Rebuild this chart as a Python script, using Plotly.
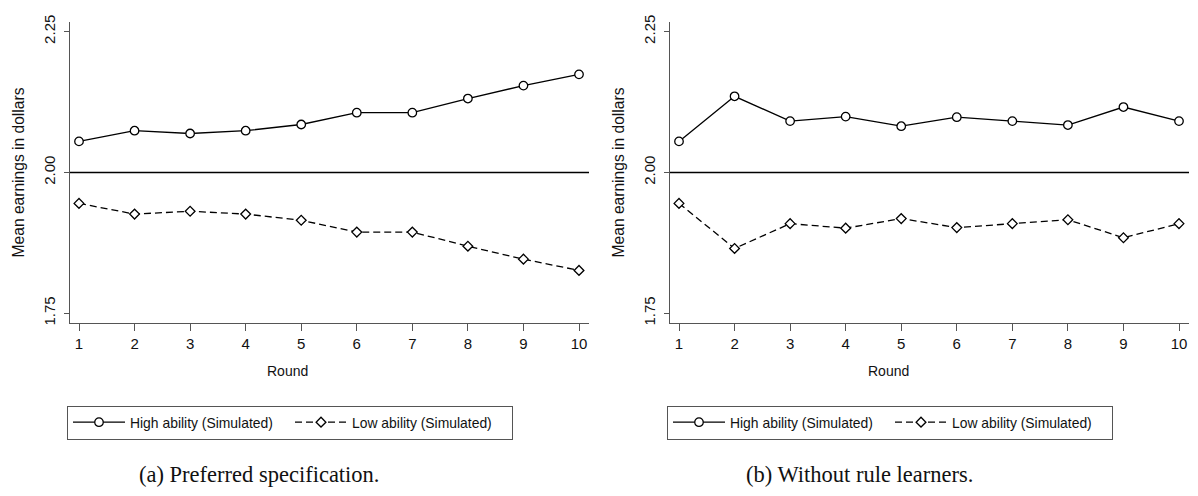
import plotly.graph_objects as go

# Mean earnings by round, simulated high/low ability groups
rounds = list(range(1, 11))
high_pref = [2.055, 2.074, 2.069, 2.074, 2.085, 2.106, 2.106, 2.131, 2.154, 2.174]
low_pref = [1.945, 1.926, 1.931, 1.926, 1.915, 1.894, 1.894, 1.869, 1.846, 1.826]
high_norule = [2.055, 2.135, 2.091, 2.099, 2.082, 2.098, 2.091, 2.084, 2.116, 2.091]
low_norule = [1.945, 1.865, 1.909, 1.901, 1.918, 1.902, 1.909, 1.916, 1.884, 1.909]

y_ticks = [1.75, 2.00, 2.25]
y_tick_text = ["1.75", "2.00", "2.25"]
baseline = 2.00
series_names = ["High ability (Simulated)", "Low ability (Simulated)"]
captions = ["(a) Preferred specification.", "(b) Without rule learners."]
x_title = "Round"
y_title = "Mean earnings in dollars"

W, H = 1198, 496
SANS = "Liberation Sans, Arial, sans-serif"
SERIF = "Liberation Serif, Times New Roman, serif"
AXIS_GREY = "#555555"


def px_x(p):
    return p / W


def px_y(p):
    return 1 - p / H


fig = go.Figure()

panels = [
    dict(high=high_pref, low=low_pref, ax="", left=70, right=589, legend="legend",
         legend_x=67, title_x=287, ytitle_x=18, caption_x=259),
    dict(high=high_norule, low=low_norule, ax="2", left=670, right=1189, legend="legend2",
         legend_x=667, title_x=888, ytitle_x=618, caption_x=859),
]

plot_top, plot_bottom = 15, 322

for i, p in enumerate(panels):
    xa = "x" + p["ax"]
    ya = "y" + p["ax"]
    fig.add_trace(go.Scatter(
        x=rounds, y=p["high"], mode="lines+markers", name=series_names[0],
        xaxis=xa, yaxis=ya, legend=p["legend"],
        line=dict(color="black", width=1.3),
        marker=dict(symbol="circle", size=8.5, color="white",
                    line=dict(color="black", width=1.3)),
    ))
    fig.add_trace(go.Scatter(
        x=rounds, y=p["low"], mode="lines+markers", name=series_names[1],
        xaxis=xa, yaxis=ya, legend=p["legend"],
        line=dict(color="black", width=1.3, dash="7px,4px"),
        marker=dict(symbol="diamond", size=7.5, color="white",
                    line=dict(color="black", width=1.3)),
    ))

    axis_common = dict(
        showgrid=False, zeroline=False, showline=True,
        linecolor=AXIS_GREY, linewidth=1.2,
        ticks="outside", tickcolor=AXIS_GREY, tickwidth=1.2,
        tickfont=dict(family=SANS, size=15, color="#111111"),
    )
    fig.update_layout(**{
        "xaxis" + p["ax"]: dict(
            axis_common,
            domain=[px_x(p["left"]), px_x(p["right"])],
            range=[0.838, 10.18], tickvals=rounds, ticklen=7,
            anchor=ya,
        ),
        "yaxis" + p["ax"]: dict(
            axis_common,
            domain=[px_y(plot_bottom), px_y(plot_top)],
            range=[1.7324, 2.2674], tickvals=y_ticks, ticktext=y_tick_text,
            tickangle=-90, ticklen=5, ticklabelstandoff=3,
            anchor=xa,
        ),
        p["legend"]: dict(
            orientation="h", x=px_x(p["legend_x"]), xanchor="left",
            y=px_y(406), yanchor="top",
            bordercolor=AXIS_GREY, borderwidth=1, bgcolor="white",
            font=dict(family=SANS, size=13.9, color="#111111"),
            itemwidth=52,
            entrywidth=155, entrywidthmode="pixels", traceorder="normal",
        ),
    })

    # reference line at the break-even earnings level
    fig.add_shape(type="line", xref=xa + " domain", yref=ya,
                  x0=0, x1=1, y0=baseline, y1=baseline,
                  line=dict(color="black", width=1.5), layer="below")

    fig.add_annotation(text=x_title, x=px_x(p["title_x"]), y=px_y(371),
                       xref="paper", yref="paper", showarrow=False,
                       xanchor="center", yanchor="middle",
                       font=dict(family=SANS, size=14, color="#111111"))
    fig.add_annotation(text=y_title, x=px_x(p["ytitle_x"]),
                       y=px_y((plot_top + plot_bottom) / 2),
                       xref="paper", yref="paper", showarrow=False, textangle=-90,
                       xanchor="center", yanchor="middle",
                       font=dict(family=SANS, size=15.6, color="#111111"))
    fig.add_annotation(text=captions[i], x=px_x(p["caption_x"]), y=px_y(476),
                       xref="paper", yref="paper", showarrow=False,
                       xanchor="center", yanchor="middle",
                       font=dict(family=SERIF, size=22.5, color="#111111"))

fig.update_layout(
    width=W, height=H,
    margin=dict(l=0, r=0, t=0, b=0),
    paper_bgcolor="white", plot_bgcolor="white",
    showlegend=True,
)

fig.write_html("out.html")
